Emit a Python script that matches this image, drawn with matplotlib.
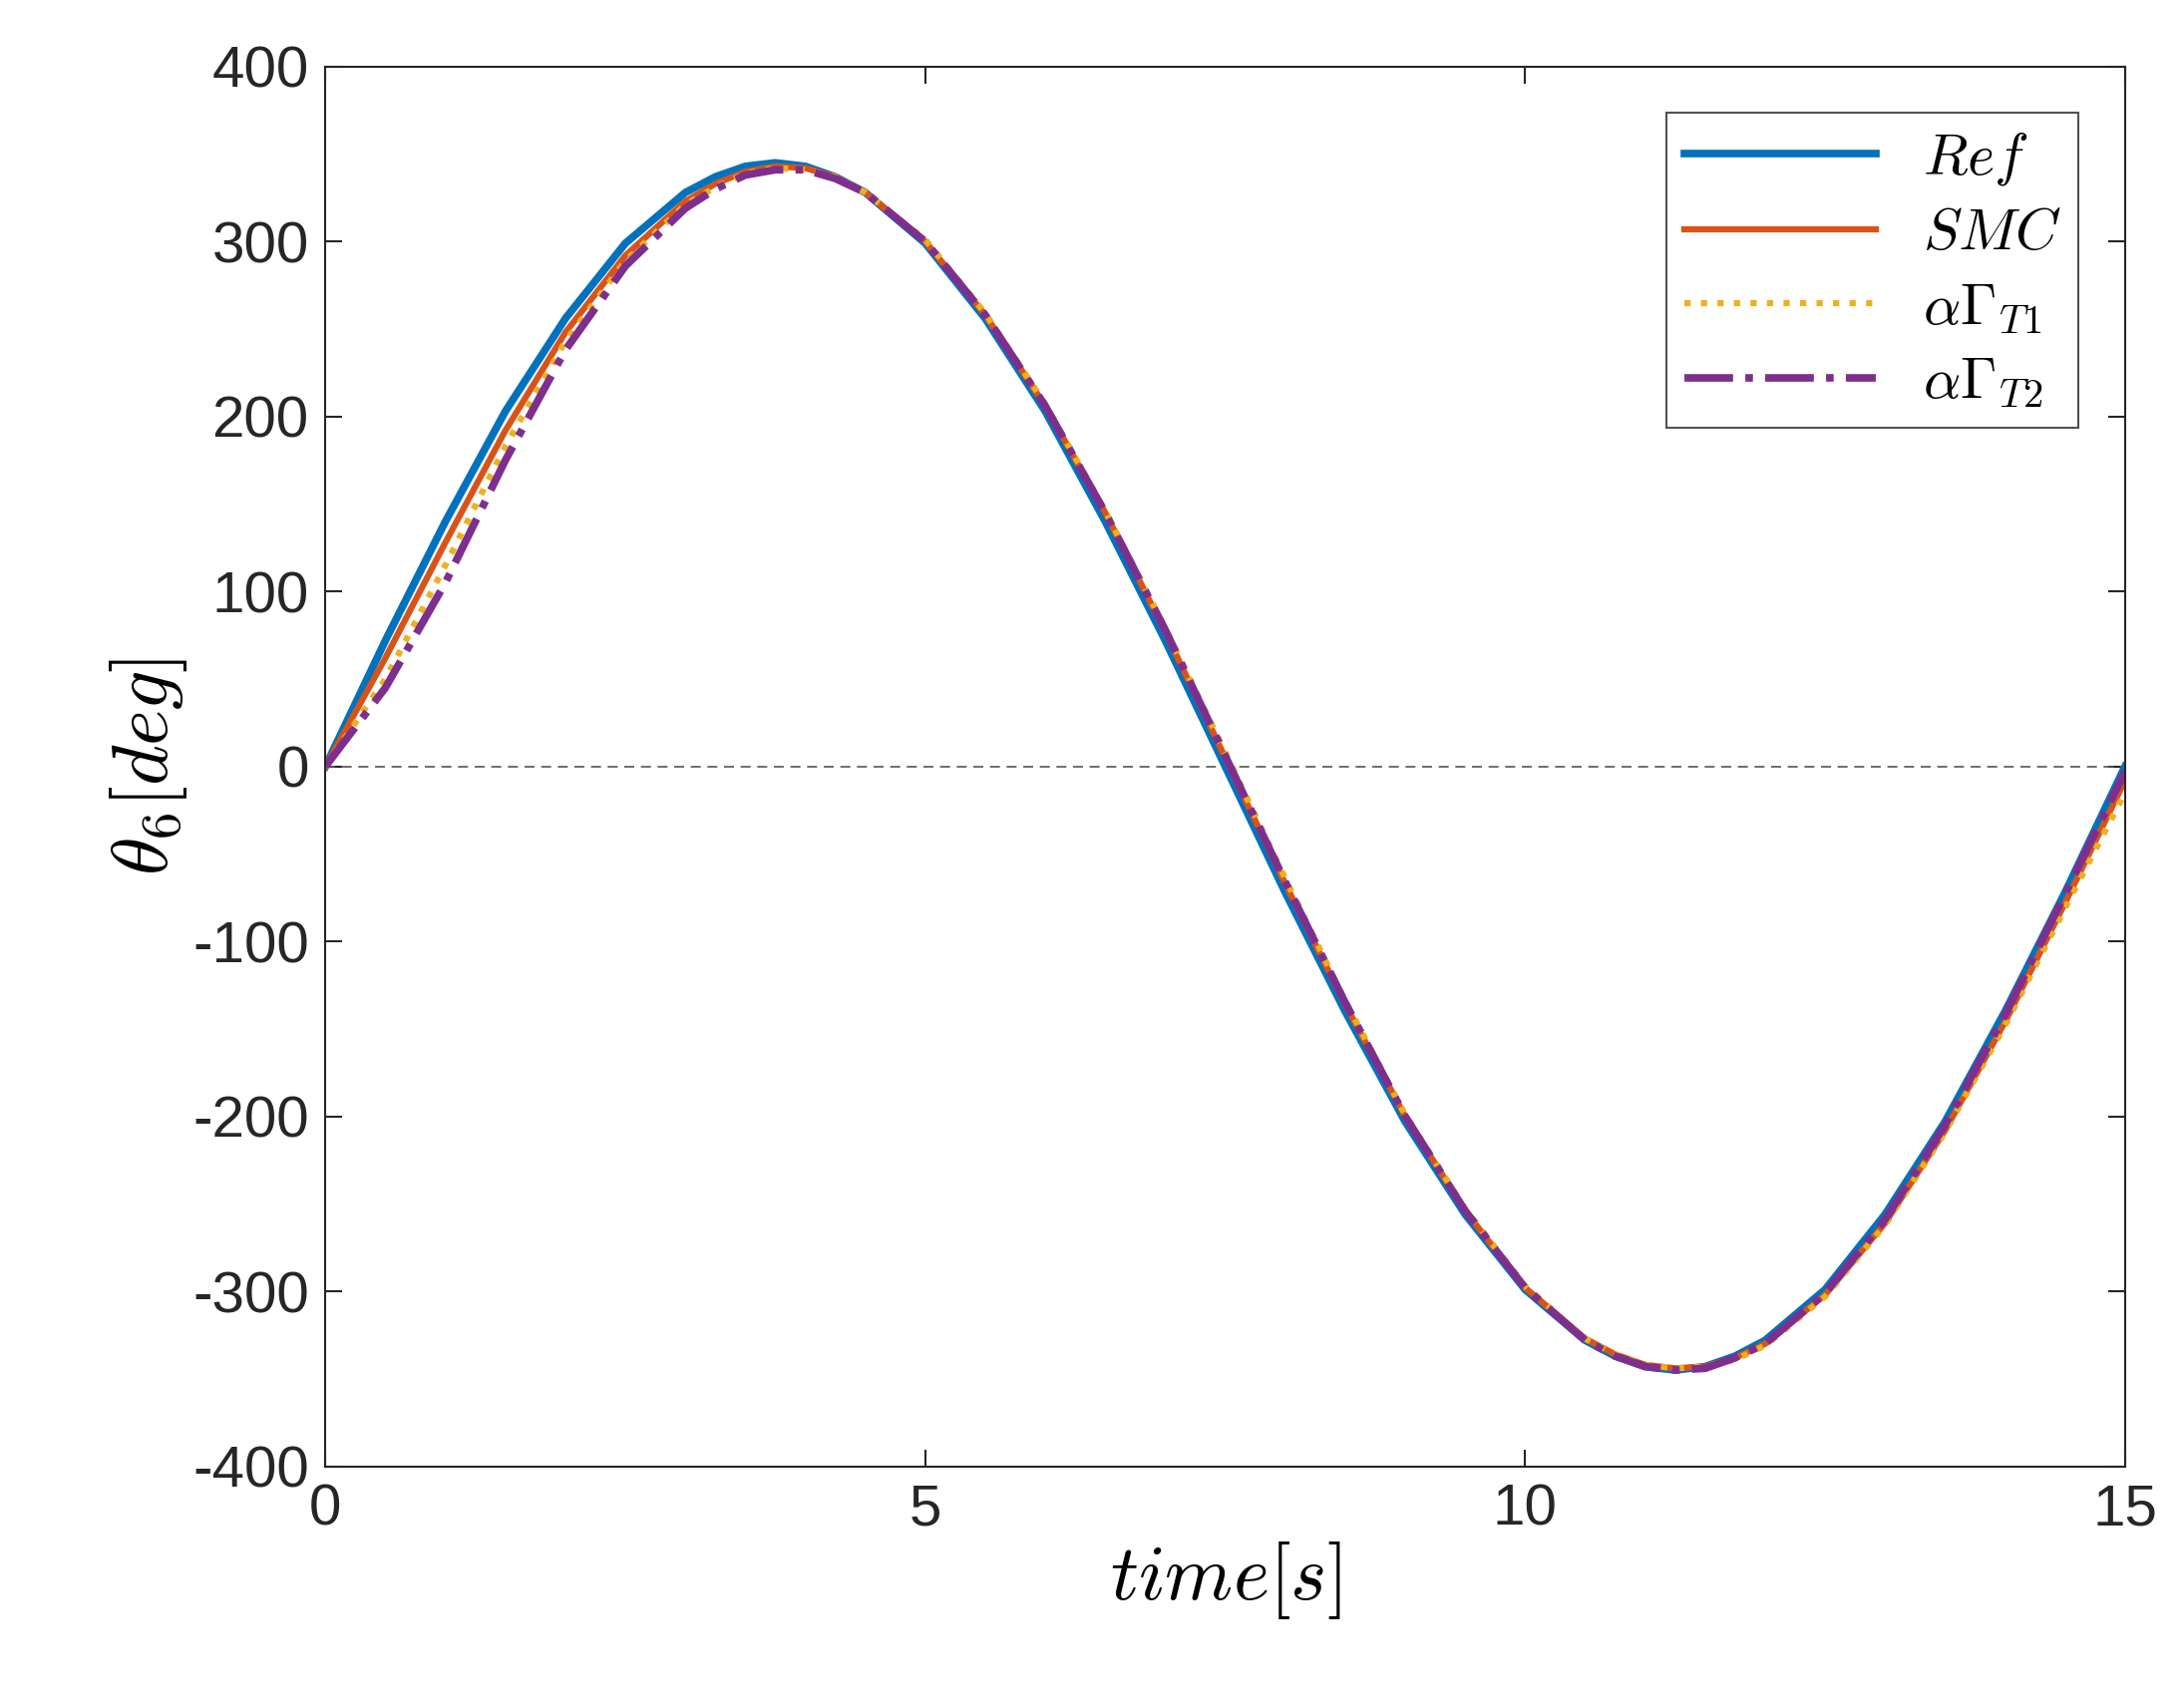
import matplotlib
matplotlib.use("Agg")
import matplotlib.pyplot as plt

plt.rcParams['mathtext.fontset'] = 'cm'
plt.rcParams['font.family'] = ['Liberation Sans', 'DejaVu Sans']
plt.rcParams['axes.unicode_minus'] = False

t = [0, 0.5, 1, 1.5, 2, 2.5, 3, 3.25, 3.5, 3.75, 4, 4.25, 4.5, 5, 5.5, 6, 6.5, 7, 7.5,
     8, 8.5, 9, 9.5, 10, 10.5, 10.75, 11, 11.25, 11.5, 11.75, 12, 12.5, 13, 13.5, 14, 14.5, 15]
ref = [0, 72, 140, 203, 256, 299, 328, 337, 343, 345, 343, 337, 328, 299, 256, 203, 140, 72, 0,
       -72, -140, -203, -256, -299, -328, -337, -343, -345, -343, -337, -328, -299, -256, -203, -140, -72, 0]
smc = [0, 62, 128, 192, 248, 292, 323, 333, 340, 343, 342, 337, 328, 300, 258, 206, 145, 77, 5,
       -67, -136, -200, -254, -298, -327, -336, -342, -344, -343, -338, -330, -302, -261, -208, -146, -78, -8]
t1 = [0, 50, 115, 183, 243, 289, 321, 331, 339, 342, 341, 337, 328, 301, 259, 207, 146, 79, 8,
      -64, -134, -199, -253, -297, -327, -336, -342, -344, -343, -339, -331, -303, -262, -209, -148, -81, -15]
t2 = [0, 45, 105, 175, 238, 286, 319, 330, 338, 341, 341, 336, 328, 300, 258, 206, 145, 78, 6,
      -66, -135, -200, -254, -298, -328, -337, -343, -345, -344, -338, -330, -301, -259, -205, -142, -73, -3]

fig = plt.figure(figsize=(21.9, 17.12), dpi=100)
ax = fig.add_axes([0.149, 0.141, 0.824, 0.820])
ax.axhline(0, color='#555555', lw=1.2, ls='--', dashes=(6, 4))
ax.plot(t, ref, color='#0072BD', lw=5.5, label=r'$Ref$')
ax.plot(t, smc, color='#D95319', lw=4.5, label=r'$SMC$')
ax.plot(t, t1, color='#EDB120', lw=4.5, ls=':', label=r'$\alpha\Gamma_{T1}$')
ax.plot(t, t2, color='#7E2F8E', lw=5.5, ls='-.', label=r'$\alpha\Gamma_{T2}$')
ax.set_xlim(0, 15)
ax.set_ylim(-400, 400)
ax.set_xticks([0, 5, 10, 15])
ax.set_yticks(range(-400, 401, 100))
ax.tick_params(direction='in', top=True, right=True, length=12, width=1.5,
               labelsize=42, colors='#262626', pad=12)
for s in ax.spines.values():
    s.set_linewidth(1.5)
    s.set_color('#262626')
ax.set_xlabel(r'$time[s]$', fontsize=56, labelpad=2)
ax.set_ylabel(r'$\theta_6[deg]$', fontsize=56, labelpad=2)
leg = ax.legend(loc='upper right', fontsize=42, fancybox=False, edgecolor='#262626',
                handlelength=3.3, borderaxespad=0.8, labelspacing=0.35, borderpad=0.3)
leg.get_frame().set_linewidth(1.5)
fig.savefig('out.png', dpi=100)
